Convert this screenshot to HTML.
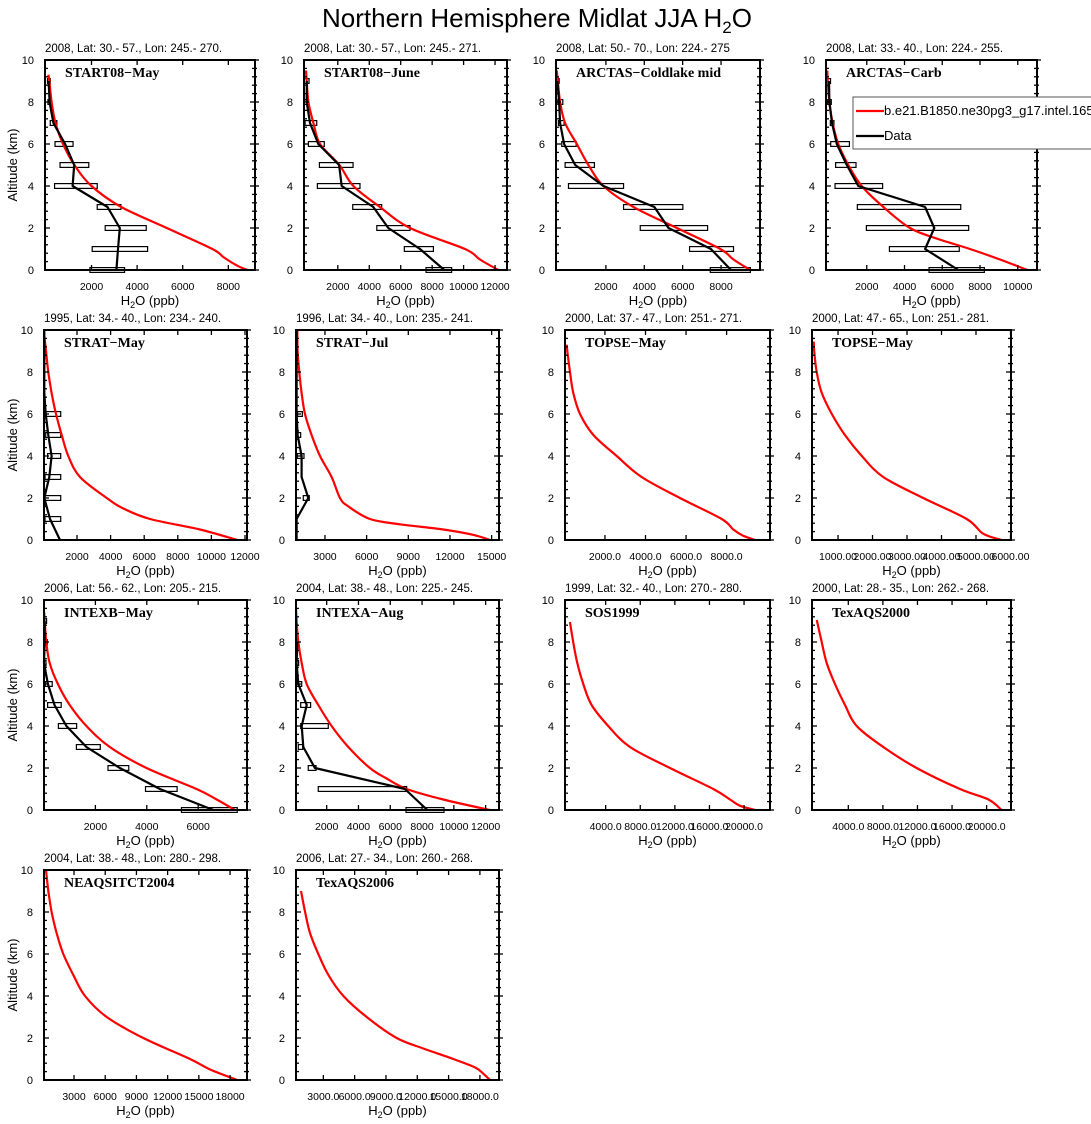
<!DOCTYPE html>
<html><head><meta charset="utf-8"><style>
html,body{margin:0;padding:0;background:#fff;}
svg{display:block;font-family:"Liberation Sans",sans-serif;overflow:hidden}
</style></head><body>
<svg id="fig" width="1091" height="1124" viewBox="0 0 1091 1124" xmlns="http://www.w3.org/2000/svg">
<rect width="1091" height="1124" fill="#fff"/>
<text x="537" y="27" font-size="26" text-anchor="middle">Northern Hemisphere Midlat JJA H<tspan font-size="17" dy="6">2</tspan><tspan dy="-6">O</tspan></text>
<g id="panels"></g>
</svg>
<script>
// ---- data (altitude km, H2O ppb) ----
const p1ModelAlt=[0,0.2,0.6,1,2,3,4,5,6,7,8,9,9.3];
const p1ModelVal=[8850,8400,7800,7300,5300,3300,2000,1250,750,420,250,150,110];
const p1ObsAlt=[0,1,2,3,4,5,6,7,8,9];
const p1ObsVal=[3090,3160,3240,2700,1170,1240,840,330,160,120];
const p1ObsLo=[1930,2030,2600,2250,380,620,400,190,90,70];
const p1ObsHi=[3450,4460,4400,3290,2250,1880,1190,480,230,190];

const p2ModelAlt=[0,0.5,1,2,3,4,5,6,7,8,9,9.5];
const p2ModelVal=[12200,11040,10090,6590,4680,2990,2100,870,450,130,20,-20];
const p2ObsAlt=[0,1,2,3,4,5,6,7,8,9];
const p2ObsVal=[8770,7230,5210,4260,2250,2080,760,230,20,30];
const p2ObsLo=[7610,6230,4480,2950,700,830,130,-80,-150,-130];
const p2ObsHi=[9240,8080,6590,4790,3410,2970,1140,660,110,170];

const p3ModelAlt=[0,0.5,1,2,3,4,5,6,7,8,9,9.5];
const p3ModelVal=[9525,8650,7960,5700,3440,1870,1090,485,-125,-385,-505,-560];
const p3ObsAlt=[0,1,2,3,4,5,6,7,8,9];
const p3ObsVal=[8520,7470,5260,4530,1870,400,-180,-385,-440,-525];
const p3ObsLo=[7440,6360,3790,2920,50,-125,-300,-475,-505,-540];
const p3ObsHi=[9530,8650,7300,6010,2920,1400,450,-180,-245,-500];

const p4ModelAlt=[0,0.5,1,1.5,2,3,4,5,6,7,8,9,9.5];
const p4ModelVal=[10510,9060,7470,5700,4290,2880,1730,1020,490,190,20,-70,-90];
const p4ObsAlt=[0,1,2,3,4,5,6,7,8,9];
const p4ObsVal=[6850,5090,5580,5090,1550,940,410,160,20,0];
const p4ObsLo=[5300,3200,1980,1500,320,350,90,70,-70,-90];
const p4ObsHi=[8230,6900,7400,6980,2840,1430,1080,260,120,80];

const p5ModelAlt=[0,0.5,1,1.5,2,3,4,5,6,7,8,9,9.7];
const p5ModelVal=[11540,9320,6350,4760,3770,2180,1480,1090,750,490,290,155,55];
const p5ObsAlt=[0,1,2,3,4,5,6,7,8,9,10];
const p5ObsVal=[990,390,55,350,490,290,135,55,50,50,50];
const p5BoxAlt=[1,2,3,4,5,6];
const p5BoxLo=[95,95,95,250,135,135];
const p5BoxHi=[1030,1030,1030,1030,1030,1030];

const p6ModelAlt=[0,0.25,0.5,0.75,1,1.6,2,3,4,5,6,7,8,9,10];
const p6ModelVal=[14880,13660,11520,8400,6240,4680,4080,3480,2640,2040,1560,1320,1150,1030,1010];
const p6ObsAlt=[0,1,2,3,4,5,6,7,8,9,10];
const p6ObsVal=[960,960,1800,1320,1320,1030,960,960,960,960,960];
const p6BoxAlt=[2,4,5,6];
const p6BoxLo=[1440,1010,1010,1030];
const p6BoxHi=[1870,1490,1250,1370];

const p7ModelAlt=[0,0.2,0.5,1,2,3,4,5,6,7,8,9,9.3];
const p7ModelVal=[9400,8820,8330,7760,5700,3810,2580,1430,770,440,275,145,115];
const p8ModelAlt=[0,0.3,1,2,3,4,5,6,7,8,9,9.45];
const p8ModelVal=[5740,5210,4730,3470,2310,1690,1200,820,530,380,310,295];

const p9ModelAlt=[0,0.5,1,2,3,4,5,6,7,8,9,9.4];
const p9ModelVal=[7430,6720,5940,3990,2560,1650,1000,540,220,90,25,10];
const p9ObsAlt=[0,1,2,3,4,5,6,7,8,9];
const p9ObsVal=[6590,4510,2950,1650,870,410,150,0,25,25];
const p9ObsLo=[5350,3950,2490,1260,560,140,50,0,0,0];
const p9ObsHi=[7520,5180,3300,2190,1270,670,320,0,130,100];

const p10ModelAlt=[0,0.5,1,1.5,2,3,4,5,6,7,8,9,9.6];
const p10ModelVal=[12270,9330,7030,5770,4720,3360,2310,1470,740,430,215,110,70];
const p10ObsAlt=[0,1,2,3,4,5,6,7,8];
const p10ObsVal=[8330,6920,1260,530,430,740,215,110,150];
const p10ObsLo=[6990,1470,840,215,365,365,110,110,70];
const p10ObsHi=[9380,7030,1330,490,2100,990,430,110,215];

const p11ModelAlt=[0,0.2,0.5,1,2,3,4,5,6,7,8,8.95];
const p11ModelVal=[21270,19540,18380,16450,11440,6810,4300,2380,1410,720,250,-130];
const p12ModelAlt=[0,0.5,1,2,3,4,5,6,7,8,9.05];
const p12ModelVal=[21740,20200,16920,11900,8050,4970,3620,2460,1500,920,350];
const p13ModelAlt=[0,0.5,1,2,3,4,5,6,7,8,9,10];
const p13ModelVal=[18700,16080,14150,9660,6140,4060,2930,1970,1330,850,530,310];
const p14ModelAlt=[0,0.3,0.6,1,1.5,2,3,4,5,6,7,8,9];
const p14ModelVal=[18970,18330,17530,15450,12580,10030,7150,4920,3480,2520,1720,1250,860];

// tick labels
const ticks2k8=["2000","4000","6000","8000"];
const ticks2k12=["2000","4000","6000","8000","10000","12000"];
const ticks2k10=["2000","4000","6000","8000","10000"];
const ticks3k15=["3000","6000","9000","12000","15000"];
const ticks2k8d=["2000.0","4000.0","6000.0","8000.0"];
const ticks1k6=["1000.00","2000.00","3000.00","4000.00","5000.00","6000.00"];
const ticks2k6=["2000","4000","6000"];
const ticks4k20=["4000.0","8000.0","12000.0","16000.0","20000.0"];
const ticks3k18=["3000","6000","9000","12000","15000","18000"];
const ticks3k18d=["3000.0","6000.0","9000.0","12000.0","15000.0","18000.0"];

const panels=[
 {n:"start08-may",l:45,r:255,t:60,xmin:-40,xmax:9170,ticks:ticks2k8,sub:"2008, Lat:  30.- 57., Lon: 245.- 270.",lab:"START08\u2212May",ma:p1ModelAlt,mv:p1ModelVal,oa:p1ObsAlt,ov:p1ObsVal,ba:p1ObsAlt,bl:p1ObsLo,bh:p1ObsHi},
 {n:"start08-june",l:304,r:507,t:60,xmin:-150,xmax:12760,ticks:ticks2k12,sub:"2008, Lat:  30.- 57., Lon: 245.- 271.",lab:"START08\u2212June",ma:p2ModelAlt,mv:p2ModelVal,oa:p2ObsAlt,ov:p2ObsVal,ba:p2ObsAlt,bl:p2ObsLo,bh:p2ObsHi},
 {n:"arctas-coldlake",l:556,r:760,t:60,xmin:-600,xmax:10030,ticks:ticks2k8,sub:"2008, Lat:  50.- 70., Lon: 224.- 275",lab:"ARCTAS\u2212Coldlake mid",ma:p3ModelAlt,mv:p3ModelVal,oa:p3ObsAlt,ov:p3ObsVal,ba:p3ObsAlt,bl:p3ObsLo,bh:p3ObsHi},
 {n:"arctas-carb",l:826,r:1037,t:60,xmin:-160,xmax:11020,ticks:ticks2k10,sub:"2008, Lat:  33.- 40., Lon: 224.- 255.",lab:"ARCTAS\u2212Carb",ma:p4ModelAlt,mv:p4ModelVal,oa:p4ObsAlt,ov:p4ObsVal,ba:p4ObsAlt,bl:p4ObsLo,bh:p4ObsHi},
 {n:"strat-may",l:44,r:247,t:330,xmin:35,xmax:12120,ticks:ticks2k12,sub:"1995, Lat: 34.- 40., Lon: 234.- 240.",lab:"STRAT\u2212May",ma:p5ModelAlt,mv:p5ModelVal,oa:p5ObsAlt,ov:p5ObsVal,ba:p5BoxAlt,bl:p5BoxLo,bh:p5BoxHi},
 {n:"strat-jul",l:296,r:499,t:330,xmin:915,xmax:15530,ticks:ticks3k15,sub:"1996, Lat: 34.- 40., Lon: 235.- 241.",lab:"STRAT\u2212Jul",ma:p6ModelAlt,mv:p6ModelVal,oa:p6ObsAlt,ov:p6ObsVal,ba:p6BoxAlt,bl:p6BoxLo,bh:p6BoxHi},
 {n:"topse-may-1",l:565,r:770,t:330,xmin:30,xmax:10140,ticks:ticks2k8d,sub:"2000, Lat: 37.- 47., Lon: 251.- 271.",lab:"TOPSE\u2212May",ma:p7ModelAlt,mv:p7ModelVal},
 {n:"topse-may-2",l:812,r:1011,t:330,xmin:245,xmax:6015,ticks:ticks1k6,sub:"2000, Lat: 47.- 65., Lon: 251.- 281.",lab:"TOPSE\u2212May",ma:p8ModelAlt,mv:p8ModelVal},
 {n:"intexb-may",l:44,r:247,t:600,xmin:0,xmax:7900,ticks:ticks2k6,sub:"2006, Lat: 56.- 62., Lon: 205.- 215.",lab:"INTEXB\u2212May",ma:p9ModelAlt,mv:p9ModelVal,oa:p9ObsAlt,ov:p9ObsVal,ba:p9ObsAlt,bl:p9ObsLo,bh:p9ObsHi},
 {n:"intexa-aug",l:296,r:499,t:600,xmin:70,xmax:12840,ticks:ticks2k12,sub:"2004, Lat: 38.- 48., Lon: 225.- 245.",lab:"INTEXA\u2212Aug",ma:p10ModelAlt,mv:p10ModelVal,oa:p10ObsAlt,ov:p10ObsVal,ba:p10ObsAlt,bl:p10ObsLo,bh:p10ObsHi},
 {n:"sos1999",l:565,r:770,t:600,xmin:-700,xmax:23000,ticks:ticks4k20,sub:"1999, Lat: 32.- 40., Lon: 270.- 280.",lab:"SOS1999",ma:p11ModelAlt,mv:p11ModelVal},
 {n:"texaqs2000",l:812,r:1011,t:600,xmin:-200,xmax:22820,ticks:ticks4k20,sub:"2000, Lat: 28.- 35., Lon: 262.- 268.",lab:"TexAQS2000",ma:p12ModelAlt,mv:p12ModelVal},
 {n:"neaqsitct2004",l:44,r:247,t:870,xmin:115,xmax:19630,ticks:ticks3k18,sub:"2004, Lat: 38.- 48., Lon: 280.- 298.",lab:"NEAQSITCT2004",ma:p13ModelAlt,mv:p13ModelVal},
 {n:"texaqs2006",l:296,r:499,t:870,xmin:380,xmax:19830,ticks:ticks3k18d,sub:"2006, Lat: 27.- 34., Lon: 260.- 268.",lab:"TexAQS2006",ma:p14ModelAlt,mv:p14ModelVal}
];

const NS="http://www.w3.org/2000/svg";
function mk(tag,attrs,parent){const e=document.createElementNS(NS,tag);for(const k in attrs)e.setAttribute(k,attrs[k]);parent.appendChild(e);return e;}
function smoothPath(pts){
  let d='M'+pts[0][0].toFixed(1)+','+pts[0][1].toFixed(1);
  for(let i=0;i<pts.length-1;i++){
    const p0=pts[Math.max(0,i-1)],p1=pts[i],p2=pts[i+1],p3=pts[Math.min(pts.length-1,i+2)];
    const c1=[p1[0]+(p2[0]-p0[0])/6,p1[1]+(p2[1]-p0[1])/6];
    const c2=[p2[0]-(p3[0]-p1[0])/6,p2[1]-(p3[1]-p1[1])/6];
    d+=' C'+c1[0].toFixed(1)+','+c1[1].toFixed(1)+' '+c2[0].toFixed(1)+','+c2[1].toFixed(1)+' '+p2[0].toFixed(1)+','+p2[1].toFixed(1);
  }
  return d;
}
const root=document.getElementById('panels');
const H=210;
panels.forEach((p,i)=>{
  const g=mk('g',{},root);
  
  
  const b=p.t+H;
  const X=v=>p.l+(v-p.xmin)/(p.xmax-p.xmin)*(p.r-p.l);
  const Y=a=>b-a/10*H;
  if(p.ba){p.ba.forEach((a,k)=>{
    const r=mk('rect',{x:X(p.bl[k]),y:Y(a)-2.4,width:Math.max(2,X(p.bh[k])-X(p.bl[k])),height:4.8,fill:'#fff',stroke:'#000','stroke-width':1.2},g);
    
    
  });}
  const ml=mk('path',{d:smoothPath(p.ma.map((a,k)=>[X(p.mv[k]),Y(a)])),fill:'none',stroke:'#f00','stroke-width':2.2,'stroke-linejoin':'round'},g);
  
  
  if(p.oa){
    const op=p.oa.map((a,k)=>X(p.ov[k]).toFixed(1)+','+Y(a).toFixed(1)).join(' ');
    const ol=mk('polyline',{points:op,fill:'none',stroke:'#000','stroke-width':2.2,'stroke-linejoin':'round'},g);
    
    
  }
  const fr=mk('rect',{x:p.l,y:p.t,width:p.r-p.l,height:H,fill:'none',stroke:'#000','stroke-width':2},g);
  
  
  for(let k=0;k<=25;k++){
    const a=k*0.4,y=Y(a),maj=(k%5===0);
    const L=maj?5:3;
    mk('line',{x1:p.l,y1:y,x2:p.l+L,y2:y,stroke:'#000','stroke-width':1.3},g);
    mk('line',{x1:p.r-L,y1:y,x2:p.r+(maj?4:2),y2:y,stroke:'#000','stroke-width':1.3},g);
    if(maj){
      const t=mk('text',{x:p.l-11,y:y+4,'font-size':11,'text-anchor':'end'},g);
      t.textContent=String(a);
      
      
    }
  }
  p.ticks.forEach(s=>{
    const v=parseFloat(s),x=X(v);
    mk('line',{x1:x,y1:b,x2:x,y2:b-5,stroke:'#000','stroke-width':1.3},g);
    mk('line',{x1:x,y1:p.t,x2:x,y2:p.t+5,stroke:'#000','stroke-width':1.3},g);
    const t=mk('text',{x:x,y:b+20,'font-size':10.5,'text-anchor':'middle'},g);
    t.textContent=s;
    
    
  });
  const xt=mk('text',{x:(p.l+p.r)/2,y:b+35,'font-size':13,'text-anchor':'middle'},g);
  xt.innerHTML='H<tspan font-size="9" dy="3">2</tspan><tspan dy="-3">O (ppb)</tspan>';
  
  
  const st=mk('text',{x:p.l,y:p.t-8,'font-size':11.5},g);
  st.textContent=p.sub;
  
  
  const lb=mk('text',{x:p.l+20,y:p.t+17,'font-size':14,'font-weight':'bold','font-family':'"Liberation Serif",serif'},g);
  lb.textContent=p.lab;
  
  
  if(p.l<100){
    const yt=mk('text',{x:0,y:0,'font-size':13,'text-anchor':'middle',transform:'translate(17,'+(p.t+H/2)+') rotate(-90)'},g);
    yt.textContent='Altitude (km)';
    
    
  }
});
const lg=mk('g',{},root);


mk('rect',{x:853,y:97,width:260,height:52,fill:'#fff',stroke:'#555','stroke-width':1},lg);
mk('line',{x1:856,y1:111,x2:884,y2:111,stroke:'#f00','stroke-width':2.2},lg);
const t1=mk('text',{x:884,y:115,'font-size':13},lg);
t1.textContent='b.e21.B1850.ne30pg3_g17.intel.1656pr';


mk('line',{x1:856,y1:136,x2:884,y2:136,stroke:'#000','stroke-width':2.2},lg);
const t2=mk('text',{x:884,y:140,'font-size':13},lg);
t2.textContent='Data';


</script>
</body></html>
